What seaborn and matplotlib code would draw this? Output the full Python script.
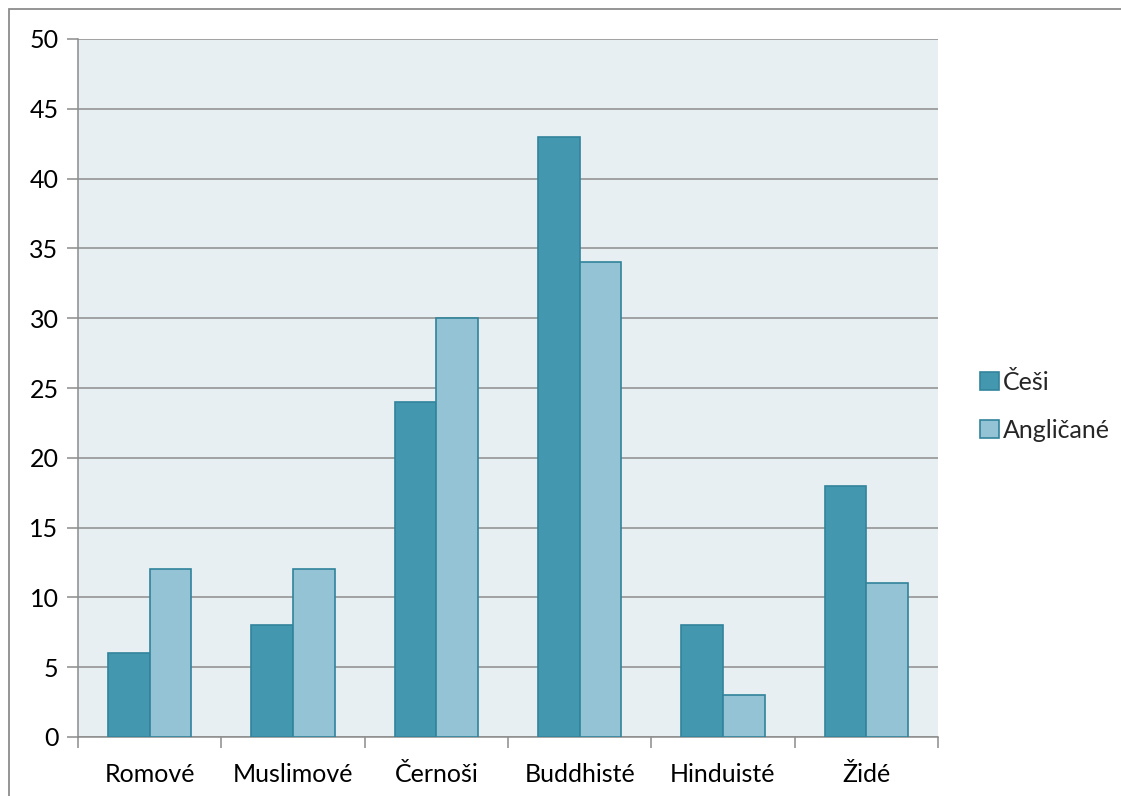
import matplotlib
matplotlib.use("Agg")
import matplotlib.pyplot as plt
import matplotlib.patches as mpatches
import seaborn as sns
import pandas as pd

categories = ["Romové", "Muslimové", "Černoši", "Buddhisté", "Hinduisté", "Židé"]
cesi = [6, 8, 24, 43, 8, 18]
anglicane = [12, 12, 30, 34, 3, 11]
series_names = ["Češi", "Angličané"]
y_ticks = [0, 5, 10, 15, 20, 25, 30, 35, 40, 45, 50]

df = pd.DataFrame({
    "kategorie": categories * 2,
    "hodnota": cesi + anglicane,
    "skupina": [series_names[0]] * len(categories) + [series_names[1]] * len(categories),
})

sns.set_theme(style="white")
plt.rcParams["font.family"] = ["Lato", "DejaVu Sans"]

W, H = 1121, 796
FS = 18
fig = plt.figure(figsize=(W / 100, H / 100), dpi=100)
ax = fig.add_axes([78 / W, (H - 737) / H, 860 / W, 698 / H])

palette = {series_names[0]: "#4398AF", series_names[1]: "#93C3D5"}
sns.barplot(data=df, x="kategorie", y="hodnota", hue="skupina", order=categories,
            hue_order=series_names, palette=palette, width=0.58, saturation=1,
            edgecolor="#31849B", linewidth=1.2, ax=ax, legend=False, zorder=3)

ax.set_facecolor("#E8EFF3")
ax.set_xlim(-0.5, len(categories) - 0.5)
ax.set_ylim(0, 50)
ax.set_yticks(y_ticks)
ax.set_yticklabels([str(v) for v in y_ticks], fontsize=FS, color="#000000")
ax.yaxis.grid(True, color="#8C8C8C", linewidth=1.1, zorder=1)
ax.set_axisbelow(True)
ax.tick_params(axis="y", which="major", direction="out", length=8, width=1.1,
               color="#8C8C8C", pad=6, left=True)

# category labels centred, tick marks on the category boundaries
ax.set_xticks(range(len(categories)))
ax.set_xticklabels(categories, fontsize=FS, color="#000000")
ax.tick_params(axis="x", which="major", length=0, pad=19)
ax.set_xticks([i - 0.5 for i in range(len(categories) + 1)], minor=True)
ax.tick_params(axis="x", which="minor", direction="out", length=8, width=1.1,
               color="#8C8C8C", bottom=True)
ax.set_xlabel("")
ax.set_ylabel("")

for side in ["top", "right"]:
    ax.spines[side].set_visible(False)
for side in ["left", "bottom"]:
    ax.spines[side].set_color("#8C8C8C")
    ax.spines[side].set_linewidth(1.1)

# legend
handles = [mpatches.Patch(facecolor=palette[n], edgecolor="#31849B", linewidth=1.2, label=n)
           for n in series_names]
fig.legend(handles=handles, loc="center left", bbox_to_anchor=(970 / W, (H - 406) / H),
           frameon=False, fontsize=FS, handlelength=0.75, handleheight=0.75,
           handletextpad=0.15, labelspacing=1.0, borderaxespad=0)

# chart area border
fig.patches.append(mpatches.Rectangle((9 / W, -0.05), 1.1, (H - 9) / H + 0.05,
                                      transform=fig.transFigure, fill=False,
                                      edgecolor="#8C8C8C", linewidth=1.3, zorder=0))

fig.savefig("out.png", dpi=100)
